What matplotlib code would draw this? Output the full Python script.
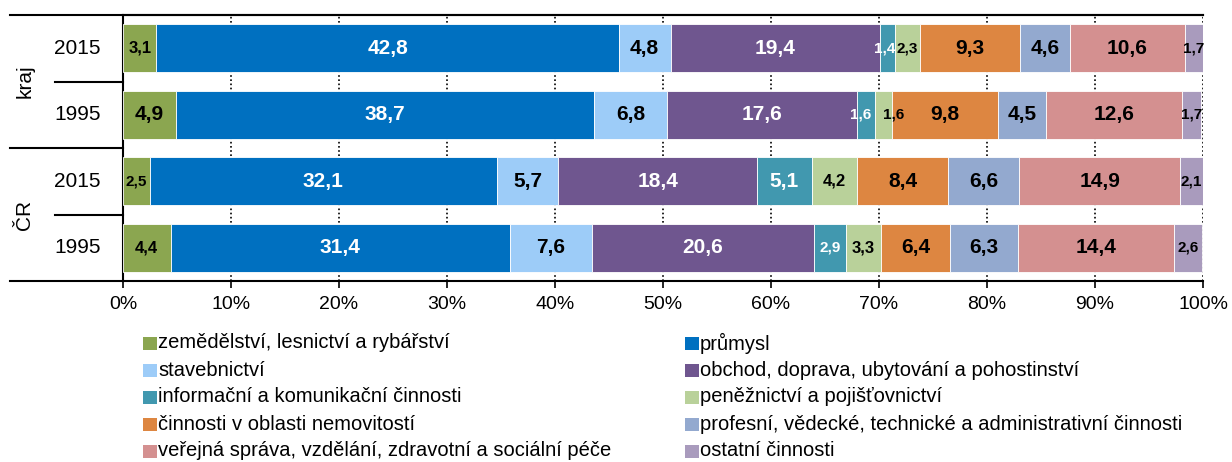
import numpy as np
import matplotlib
matplotlib.use('Agg')
import matplotlib.pyplot as plt
from matplotlib.patches import Rectangle

plt.rcParams['font.family'] = ['Liberation Sans', 'DejaVu Sans']

sectors = ['zemědělství, lesnictví a rybářství', 'průmysl', 'stavebnictví',
           'obchod, doprava, ubytování a pohostinství', 'informační a komunikační činnosti',
           'peněžnictví a pojišťovnictví', 'činnosti v oblasti nemovitostí',
           'profesní, vědecké, technické a administrativní činnosti',
           'veřejná správa, vzdělání, zdravotní a sociální péče', 'ostatní činnosti']
colors = ['#8BA650', '#0070C0', '#9DCCF8', '#6F568F', '#4198AF',
          '#B9D19A', '#DD8641', '#93A9CF', '#D49090', '#A99BBD']
white_text = [False, True, False, True, True, False, False, False, False, False]

years = ['2015', '1995', '2015', '1995']
groups = ['kraj', 'ČR']

kraj_2015 = [3.1, 42.8, 4.8, 19.4, 1.4, 2.3, 9.3, 4.6, 10.6, 1.7]
kraj_1995 = [4.9, 38.7, 6.8, 17.6, 1.6, 1.6, 9.8, 4.5, 12.6, 1.7]
cr_2015 = [2.5, 32.1, 5.7, 18.4, 5.1, 4.2, 8.4, 6.6, 14.9, 2.1]
cr_1995 = [4.4, 31.4, 7.6, 20.6, 2.9, 3.3, 6.4, 6.3, 14.4, 2.6]

rows = np.array([kraj_2015, kraj_1995, cr_2015, cr_1995])
ypos = [3, 2, 1, 0]
# small label shifts (in %) so narrow neighbours don't collide
nudge = {(0, 4): -0.3, (1, 4): -0.5, (1, 5): 1.0}

fig = plt.figure(figsize=(12.32, 4.62), dpi=100)
ax = fig.add_axes([123/1232, 1-281/462, 1080/1232, 266/462])

for r, vals in enumerate(rows):
    left = 0
    for j, v in enumerate(vals):
        ax.barh(ypos[r], v, left=left, height=0.72, color=colors[j], edgecolor='white', linewidth=0.6, zorder=3)
        fs = 15 if v >= 4.5 else (12 if v >= 3 else 11)
        ax.text(left + v/2 + nudge.get((r, j), 0), ypos[r], f'{v:.1f}'.replace('.', ','),
                ha='center', va='center', fontsize=fs, fontweight='bold',
                color='white' if white_text[j] else 'black', zorder=4)
        left += v

ax.set_xlim(0, 100)
ax.set_ylim(-0.5, 3.5)
ax.set_xticks(np.arange(0, 101, 10))
ax.set_xticklabels([f'{t}%' for t in range(0, 101, 10)], fontsize=14)
ax.set_yticks([])
ax.tick_params(axis='x', direction='out', length=5, width=1.2, pad=6)
for t in range(10, 101, 10):
    ax.axvline(t, color='black', linestyle=(0, (1, 1.5)), linewidth=1.2, zorder=1)
for s in ['left', 'bottom', 'top']:
    ax.spines[s].set_linewidth(1.5)
ax.spines['right'].set_visible(False)

# category frame on the left
kw = dict(transform=ax.transAxes, color='black', linewidth=1.5, clip_on=False)
ax.plot([-0.105, 1.0], [1, 1], **kw)
ax.plot([-0.105, 0], [0.5, 0.5], **kw)
ax.plot([-0.105, 0], [0, 0], **kw)
ax.plot([-0.063, 0], [0.75, 0.75], **kw)
ax.plot([-0.063, 0], [0.25, 0.25], **kw)

ytr = ax.get_yaxis_transform()
for r, y in enumerate(ypos):
    ax.text(-0.042, y, years[r], transform=ytr, ha='center', va='center', fontsize=15)
ax.text(-0.091, 0.75, groups[0], transform=ax.transAxes, rotation=90, ha='center', va='center', fontsize=15)
ax.text(-0.091, 0.25, groups[1], transform=ax.transAxes, rotation=90, ha='center', va='center', fontsize=15)

# legend drawn manually in two columns
for i, lab in enumerate(sectors):
    col, row = i % 2, i // 2
    x0 = (143 if col == 0 else 685) / 1232
    y0 = 1 - (343 + 27 * row) / 462
    fig.patches.append(Rectangle((x0, y0 - 7/462), 14/1232, 13/462, transform=fig.transFigure,
                                 facecolor=colors[i], edgecolor='none'))
    fig.text(x0 + 15/1232, y0, lab, ha='left', va='center', fontsize=14.5)

fig.savefig('out.png', dpi=100)
